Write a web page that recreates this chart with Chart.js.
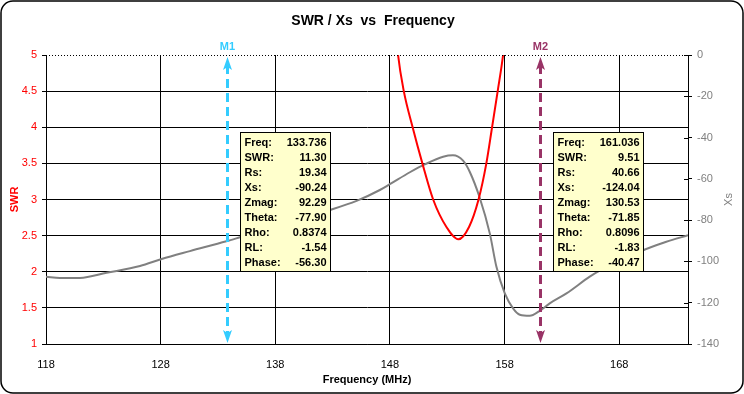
<!DOCTYPE html>
<html>
<head>
<meta charset="utf-8">
<title>SWR / Xs vs Frequency</title>
<script src="https://cdn.jsdelivr.net/npm/chart.js@4.4.1/dist/chart.umd.min.js"></script>
<style>
  html, body { margin: 0; padding: 0; background: #fff; }
  #wrap { width: 744px; height: 394px; }
</style>
</head>
<body>
<div id="wrap"><canvas id="chart" width="744" height="394"></canvas></div>
<script>
// 축 눈금
const xTicks = [118, 128, 138, 148, 158, 168];
const swrTicks = [1, 1.5, 2, 2.5, 3, 3.5, 4, 4.5, 5];
const xsTicks = [-140, -120, -100, -80, -60, -40, -20, 0];

// SWR (왼쪽 축) - 5 이상은 잘림
const swrFreq = [148.60, 148.71, 149.21, 149.98, 150.83, 151.77, 152.93, 153.98, 154.90, 155.73, 156.41, 156.91, 157.40, 157.87, 158.00];
const swrValues = [5.2, 5.0, 4.5, 4.0, 3.5, 3.0, 2.62, 2.45, 2.62, 3.0, 3.5, 4.0, 4.5, 5.0, 5.2];

// Xs (오른쪽 축)
const xsFreq = [118.0, 119.22, 120.96, 123.29, 126.20, 128.09, 130.55, 133.736, 134.91, 142.47, 145.09, 147.12, 147.99, 149.74, 151.04, 152.64, 153.50, 154.38, 154.97, 155.84, 156.71, 157.29, 158.02, 158.74, 159.33, 160.20, 161.036, 161.94, 163.40, 165.43, 166.30, 168.04, 169.79, 172.11, 174.0];
const xsValues = [-107.4, -108.0, -108.0, -105.5, -102.2, -98.8, -95.0, -90.24, -88.3, -75.6, -70.7, -65.4, -62.6, -56.8, -53.0, -49.3, -48.6, -51.2, -56.7, -69.3, -86.4, -102.6, -115.5, -122.7, -125.8, -126.3, -124.04, -120.3, -115.5, -107.4, -104.5, -100.1, -95.3, -90.5, -87.3];

// 마커
const markerNames = ['M1', 'M2'];
const markerFreqs = [133.736, 161.036];
const boxLabels = ['Freq:', 'SWR:', 'Rs:', 'Xs:', 'Zmag:', 'Theta:', 'Rho:', 'RL:', 'Phase:'];
const m1Values = ['133.736', '11.30', '19.34', '-90.24', '92.29', '-77.90', '0.8374', '-1.54', '-56.30'];
const m2Values = ['161.036', '9.51', '40.66', '-124.04', '130.53', '-71.85', '0.8096', '-1.83', '-40.47'];

const FONT = '"Liberation Sans", Arial, sans-serif';
const markerColors = ['#33CCFF', '#993366'];
const markerBoxes = [m1Values, m2Values];

function drawArrow(ctx, x, tipY, dir, color) {
    // dir: -1 = 위쪽, 1 = 아래쪽
    ctx.fillStyle = color;
    ctx.beginPath();
    ctx.moveTo(x, tipY);
    ctx.lineTo(x - 4.5, tipY - dir * 13);
    ctx.lineTo(x, tipY - dir * 10);
    ctx.lineTo(x + 4.5, tipY - dir * 13);
    ctx.closePath();
    ctx.fill();
}

const decor = {
    id: 'decor',
    beforeDraw(chart) {
        const ctx = chart.ctx;
        ctx.save();
        ctx.fillStyle = '#fff';
        ctx.fillRect(0, 0, chart.width, chart.height);
        ctx.restore();
    },
    afterDraw(chart) {
        const ctx = chart.ctx;
        const a = chart.chartArea;
        const xs = chart.scales.x;
        const y1 = chart.scales.y1;
        ctx.save();

        // 위쪽 점선
        ctx.strokeStyle = '#000';
        ctx.lineWidth = 1;
        ctx.setLineDash([1, 2]);
        ctx.beginPath();
        ctx.moveTo(a.left, a.top + 0.5);
        ctx.lineTo(a.right, a.top + 0.5);
        ctx.stroke();
        ctx.setLineDash([]);

        // 오른쪽 축 눈금 (안쪽)
        xsTicks.forEach(v => {
            const py = Math.round(y1.getPixelForValue(v)) + 0.5;
            ctx.beginPath();
            ctx.moveTo(a.right - 4, py);
            ctx.lineTo(a.right, py);
            ctx.stroke();
        });

        // 제목
        ctx.fillStyle = '#000';
        ctx.textAlign = 'center';
        ctx.textBaseline = 'middle';
        ctx.font = 'bold 14px ' + FONT;
        ctx.fillText('SWR / Xs  vs  Frequency', 373, 21);

        // 축 제목
        ctx.font = 'bold 11px ' + FONT;
        ctx.fillText('Frequency (MHz)', (a.left + a.right) / 2, 380);
        ctx.save();
        ctx.translate(15, (a.top + a.bottom) / 2);
        ctx.rotate(-Math.PI / 2);
        ctx.fillStyle = '#FF0000';
        ctx.fillText('SWR', 0, 0);
        ctx.restore();
        ctx.save();
        ctx.translate(729, (a.top + a.bottom) / 2);
        ctx.rotate(-Math.PI / 2);
        ctx.fillStyle = '#808080';
        ctx.font = '11px ' + FONT;
        ctx.fillText('Xs', 0, 0);
        ctx.restore();

        // 마커 선 + 정보 박스
        markerFreqs.forEach((f, i) => {
            const px = Math.round(xs.getPixelForValue(f)) + 1.5;
            const color = markerColors[i];

            ctx.strokeStyle = color;
            ctx.lineWidth = 3;
            ctx.setLineDash([9, 5]);
            ctx.beginPath();
            ctx.moveTo(px, a.top + 10);
            ctx.lineTo(px, a.bottom - 10);
            ctx.stroke();
            ctx.setLineDash([]);
            drawArrow(ctx, px, a.top + 2, -1, color);
            drawArrow(ctx, px, a.bottom - 1, 1, color);

            ctx.fillStyle = color;
            ctx.font = 'bold 11px ' + FONT;
            ctx.textAlign = 'center';
            ctx.fillText(markerNames[i], px, 47);

            // 박스
            const vals = markerBoxes[i];
            const lw = Math.max(...boxLabels.map(t => ctx.measureText(t).width));
            const vw = Math.max(...vals.map(t => ctx.measureText(t).width));
            const bw = Math.round(4 + lw + 6 + vw + 4);
            const bx = Math.round(px + 12) + 0.5;
            const by = 132.5;
            const bh = 139;
            ctx.fillStyle = '#FFFFCC';
            ctx.fillRect(bx, by, bw, bh);
            ctx.strokeStyle = '#000';
            ctx.lineWidth = 1;
            ctx.strokeRect(bx, by, bw, bh);
            ctx.fillStyle = '#000';
            boxLabels.forEach((t, r) => {
                const ty = by + 10 + r * 15;
                ctx.textAlign = 'left';
                ctx.fillText(t, bx + 4, ty);
                ctx.textAlign = 'right';
                ctx.fillText(vals[r], bx + bw - 4, ty);
            });
        });

        // 바깥 테두리
        ctx.strokeStyle = '#000';
        ctx.lineWidth = 1.5;
        ctx.beginPath();
        ctx.roundRect(1, 1, chart.width - 2, chart.height - 2, 12);
        ctx.stroke();
        ctx.restore();
    }
};

new Chart(document.getElementById('chart'), {
    type: 'line',
    data: {
        datasets: [
            {
                label: 'SWR',
                data: swrFreq.map((f, i) => ({ x: f, y: swrValues[i] })),
                borderColor: '#FF0000',
                borderWidth: 2,
                pointRadius: 0,
                cubicInterpolationMode: 'monotone',
                yAxisID: 'y'
            },
            {
                label: 'Xs',
                data: xsFreq.map((f, i) => ({ x: f, y: xsValues[i] })),
                borderColor: '#808080',
                borderWidth: 2,
                pointRadius: 0,
                cubicInterpolationMode: 'monotone',
                yAxisID: 'y1'
            }
        ]
    },
    options: {
        responsive: false,
        animation: false,
        layout: { padding: { top: 55, left: 0, right: 0, bottom: 0 } },
        plugins: { legend: { display: false }, tooltip: { enabled: false } },
        scales: {
            x: {
                type: 'linear',
                min: 118,
                max: 174,
                afterBuildTicks: s => { s.ticks = xTicks.map(v => ({ value: v })); },
                afterFit: s => { s.height = 50; },
                grid: { color: '#000', drawTicks: false },
                border: { color: '#000' },
                ticks: { color: '#000', font: { family: FONT, size: 11 }, padding: 14, maxRotation: 0 }
            },
            y: {
                position: 'left',
                min: 1,
                max: 5,
                afterBuildTicks: s => { s.ticks = swrTicks.map(v => ({ value: v })); },
                afterFit: s => { s.width = 46; },
                grid: {
                    color: c => (c.tick && c.tick.value === 5) ? 'rgba(0,0,0,0)' : '#000',
                    tickColor: '#000',
                    tickLength: 4
                },
                border: { color: '#000' },
                ticks: { color: '#FF0000', font: { family: FONT, size: 11 }, padding: 5, callback: v => String(v) }
            },
            y1: {
                position: 'right',
                min: -140,
                max: 0,
                afterBuildTicks: s => { s.ticks = xsTicks.map(v => ({ value: v })); },
                afterFit: s => { s.width = 56; },
                grid: { drawOnChartArea: false, tickColor: '#000', tickLength: 4 },
                border: { color: '#000' },
                ticks: { color: '#808080', font: { family: FONT, size: 11 }, padding: 5, callback: v => String(v) }
            }
        }
    },
    plugins: [decor]
});
</script>
</body>
</html>
